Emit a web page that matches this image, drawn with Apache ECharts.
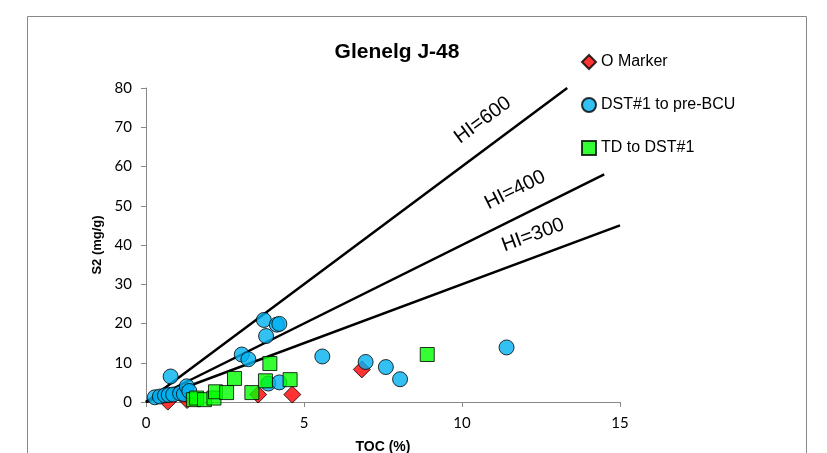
<!DOCTYPE html>
<html>
<head>
<meta charset="utf-8">
<script src="https://cdn.jsdelivr.net/npm/echarts@6/dist/echarts.min.js"></script>
<style>html,body{margin:0;padding:0;background:#fff}#c{width:827px;height:453px}</style>
</head>
<body>
<div id="c"></div>
<script>
// O Marker: [TOC, S2]
var oMarker = [[0.69,0.1],[1.3,0.5],[3.55,1.9],[4.63,1.9],[6.83,8.3]];
// DST#1 to pre-BCU
var dstToBcu = [[0.28,1.2],[0.44,1.4],[0.6,1.7],[0.72,1.8],[0.86,1.9],[1.08,2.2],[1.2,2.0],[0.78,6.5],[1.29,4.0],[1.37,2.8],
  [3.03,12.1],[3.24,10.9],[3.73,20.9],[3.80,16.8],[4.14,19.7],[4.22,19.9],[3.87,4.7],[4.22,5.0],
  [5.58,11.6],[6.95,10.2],[7.59,8.9],[8.04,5.8],[11.41,13.9]];
// TD to DST#1
var tdToDst = [[1.5,0.6],[1.6,1.0],[1.85,0.6],[2.15,1.0],[2.2,2.6],[2.55,2.4],[2.8,6.0],[3.35,2.4],[3.78,5.4],[3.92,9.8],[4.56,5.7],[8.9,12.1]];
// HI reference lines (S2 = HI/100 * TOC)
var hiLabels = ['HI=600','HI=400','HI=300'];
var hiLines = [[[0,0],[13.33,80]],[[0,0],[14.5,58]],[[0,0],[15,45]]];
var hiLabelPos = [[10.66,71.8],[11.68,54.0],[12.25,42.5]];
var xTicks = [0,5,10,15];
var yTicks = [0,10,20,30,40,50,60,70,80];

var chart = echarts.init(document.getElementById('c'));
var lineSeries = hiLines.map(function(d,i){
  return {type:'line', name:hiLabels[i], data:d, symbol:'none', silent:true, z:1,
    lineStyle:{color:'#000', width:2.5}, animation:false};
});
var option = {
  animation:false,
  title:{text:'Glenelg J-48', left:392, top:37, textAlign:'center',
    textStyle:{fontFamily:'Liberation Sans', fontWeight:'bold', fontSize:21, color:'#000'}},
  legend:{orient:'vertical', left:581, top:54, padding:0, itemWidth:14, itemHeight:14, itemGap:27,
    textStyle:{fontFamily:'Liberation Sans', fontSize:16, color:'#000'},
    data:[{name:'O Marker', icon:'diamond'},{name:'DST#1 to pre-BCU', icon:'circle'},{name:'TD to DST#1', icon:'rect'}]},
  grid:{left:146, right:207, top:88, bottom:51, containLabel:false, outerBoundsMode:'none'},
  xAxis:{type:'value', min:0, max:15, interval:5, name:'TOC (%)', nameLocation:'middle', nameGap:38, nameMoveOverlap:false,
    nameTextStyle:{fontFamily:'Liberation Sans', fontWeight:'bold', fontSize:14, color:'#000'},
    axisLine:{lineStyle:{color:'#888'}}, axisTick:{show:true, length:5, lineStyle:{color:'#888'}},
    axisLabel:{margin:14, fontFamily:'Lato', fontSize:15, color:'#000',
      formatter:function(v){return xTicks.indexOf(v)>=0? String(v):'';}},
    splitLine:{show:false}},
  yAxis:{type:'value', min:0, max:80, interval:10, name:'S2 (mg/g)', nameLocation:'middle', nameGap:42, nameMoveOverlap:false,
    nameTextStyle:{fontFamily:'Liberation Sans', fontWeight:'bold', fontSize:13, color:'#000'},
    axisLine:{show:true, lineStyle:{color:'#888'}}, axisTick:{show:true, length:5, lineStyle:{color:'#888'}},
    axisLabel:{margin:14, fontFamily:'Lato', fontSize:15, color:'#000',
      formatter:function(v){return yTicks.indexOf(v)>=0? String(v):'';}},
    splitLine:{show:false}},
  series: lineSeries.concat([
    {type:'scatter', name:'O Marker', data:oMarker, symbol:'diamond', symbolSize:17, z:2,
      itemStyle:{color:'#FF0000', borderColor:'#000', borderWidth:1}},
    {type:'scatter', name:'DST#1 to pre-BCU', data:dstToBcu, symbol:'circle', symbolSize:15, z:3,
      itemStyle:{color:'#00B0F0', borderColor:'#000', borderWidth:1}},
    {type:'scatter', name:'TD to DST#1', data:tdToDst, symbol:'rect', symbolSize:14, z:4,
      itemStyle:{color:'#00FF00', borderColor:'#000', borderWidth:1}}
  ])
};
chart.setOption(option);

var angles = [36.5, 26.5, 20.2];
var g = [{type:'rect', shape:{x:27.5, y:16.5, width:779, height:460}, style:{fill:'none', stroke:'#888', lineWidth:1}, z:-1, silent:true}];
hiLabelPos.forEach(function(p,i){
  var px = chart.convertToPixel({gridIndex:0}, p);
  g.push({type:'text', x:px[0], y:px[1], rotation:angles[i]*Math.PI/180, z:10,
    style:{text:hiLabels[i], font:'20px "Liberation Sans"', fill:'#000', align:'center', verticalAlign:'middle'}});
});
chart.setOption({graphic:g});
</script>
</body>
</html>
